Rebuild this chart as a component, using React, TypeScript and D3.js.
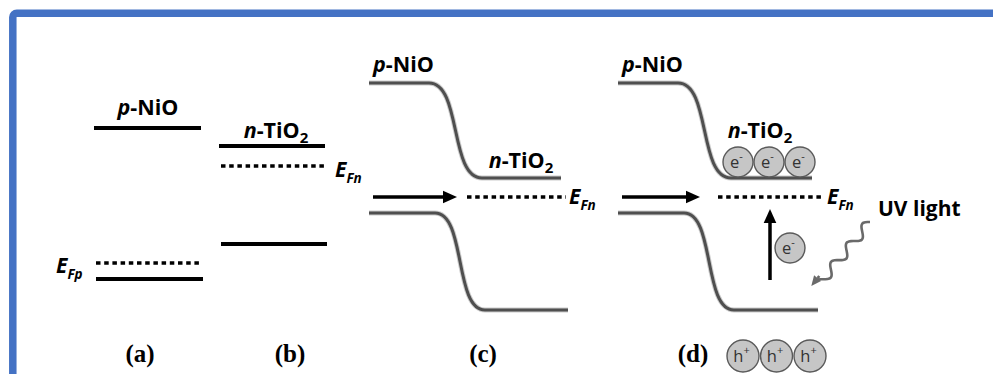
import * as d3 from 'd3';

// energy levels in arbitrary units (0 = bottom of diagram, 100 = top)
const panelLabels = ['(a)', '(b)', '(c)', '(d)'];
const materials = ['p-NiO', 'n-TiO2'];
// separated materials: panel (a) NiO, panel (b) TiO2
const isolatedCB = [80.8, 73.6];
const isolatedEF = [26.8, 65.6];
const isolatedVB = [20.4, 34.4];
// junction (panels c and d): [NiO side, TiO2 side]
const junctionCB = [98.8, 60.8];
const junctionVB = [46.8, 8];
const junctionEF = 53.2;
const electrons = ['e', 'e', 'e'];
const holes = ['h', 'h', 'h'];

const W = 993, H = 374;
const y = d3.scaleLinear().domain([0, 100]).range([330, 80]);

const sans = "'Open Sans', 'DejaVu Sans', sans-serif";
const serif = "'Liberation Serif', 'DejaVu Serif', serif";
const blue = '#4472c4';
const band = '#4f4f4f';

const isoX = [[94, 201], [219, 325]];
const juncX = [369, 618];

function bandPath(x0: number, hi: number, lo: number, b0: number, b1: number, end: number) {
  const p = d3.path();
  const w = b1 - b0;
  p.moveTo(x0, y(hi));
  p.lineTo(x0 + b0, y(hi));
  p.bezierCurveTo(x0 + b0 + w * 0.62, y(hi), x0 + b1 - w * 0.62, y(lo), x0 + b1, y(lo));
  p.lineTo(x0 + end, y(lo));
  return p.toString();
}

function Material({ name, x, yb, anchor = 'middle' }: { name: string; x: number; yb: number; anchor?: string }) {
  const [pre, rest] = name.split('-');
  const sub = rest.endsWith('2');
  return (
    <text x={x} y={yb} textAnchor={anchor as any} fontFamily={sans} fontWeight="bold" fontSize={21.5} fill="#000">
      <tspan fontStyle="italic">{pre}</tspan>
      <tspan>-{sub ? rest.slice(0, -1) : rest}</tspan>
      {sub && <tspan fontSize={15} dy={5}>2</tspan>}
    </text>
  );
}

function Efermi({ x, yb, sub, anchor = 'start' }: { x: number; yb: number; sub: string; anchor?: string }) {
  return (
    <text x={x} y={yb} textAnchor={anchor as any} fontFamily={sans} fontWeight="bold" fontStyle="italic" fontSize={21} fill="#000">
      E<tspan fontSize={13.5} dy={6}>{sub}</tspan>
    </text>
  );
}

function Charge({ cx, cy, r, ch, sign }: { cx: number; cy: number; r: number; ch: string; sign: string }) {
  return (
    <g>
      <circle cx={cx} cy={cy} r={r} fill="#c6c6c6" stroke="#5a5a5a" strokeWidth={1.4} />
      <text x={cx - 1.5} y={cy + 5.5} textAnchor="middle" fontFamily={sans} fontSize={16.5} fill="#333">
        {ch}<tspan fontSize={11} dy={-8}>{sign}</tspan>
      </text>
    </g>
  );
}

function Arrow({ x1, y1, x2, y2, color = '#000', width = 3.5, head = 14 }: any) {
  const a = Math.atan2(y2 - y1, x2 - x1);
  const bx = x2 - head * Math.cos(a), by = y2 - head * Math.sin(a);
  const hw = head * 0.45;
  const pts = [
    [x2, y2],
    [bx + hw * Math.sin(a), by - hw * Math.cos(a)],
    [bx - hw * Math.sin(a), by + hw * Math.cos(a)],
  ];
  return (
    <g>
      <line x1={x1} y1={y1} x2={bx} y2={by} stroke={color} strokeWidth={width} />
      <polygon points={pts.map(p => p.join(',')).join(' ')} fill={color} />
    </g>
  );
}

function Wavy() {
  const s = [870, 222], e = [820, 283];
  const dx = e[0] - s[0], dy = e[1] - s[1];
  const len = Math.hypot(dx, dy);
  const nx = -dy / len, ny = dx / len;
  const pts: [number, number][] = d3.range(0, 1.0001, 0.02).map(t => {
    const off = 5 * Math.sin(t * Math.PI * 2 * 3.2);
    return [s[0] + dx * t + nx * off, s[1] + dy * t + ny * off];
  });
  const line = d3.line().curve(d3.curveBasis)(pts) || '';
  const last = pts[pts.length - 1];
  return (
    <g>
      <path d={line} fill="none" stroke="#6a6a6a" strokeWidth={2.6} />
      <Arrow x1={last[0] + 3} y1={last[1] - 4} x2={last[0] - 5} y2={last[1] + 6} color="#6a6a6a" width={2.6} head={10} />
    </g>
  );
}

export default function App() {
  const dash = '4.5 3.7';
  return (
    <svg width={W} height={H} style={{ position: 'absolute', left: 0, top: 0, background: '#fff' }}>
      <rect x={12.8} y={13.3} width={1200} height={600} rx={4} fill="none" stroke={blue} strokeWidth={7.5} />

      {/* (a) and (b): isolated materials */}
      {isoX.map(([x0, x1], i) => (
        <g key={i}>
          <line x1={x0} x2={x1} y1={y(isolatedCB[i])} y2={y(isolatedCB[i])} stroke="#000" strokeWidth={4} />
          <line x1={x0 + 2} x2={x1 + 2} y1={y(isolatedVB[i])} y2={y(isolatedVB[i])} stroke="#000" strokeWidth={4} />
          <line x1={x0 + 2} x2={x1} y1={y(isolatedEF[i])} y2={y(isolatedEF[i])} stroke="#000" strokeWidth={3.5} strokeDasharray={dash} />
        </g>
      ))}
      <Material name={materials[0]} x={148} yb={115} />
      <Material name={materials[1]} x={276} yb={138} />
      <Efermi x={56} yb={273} sub="Fp" />
      <Efermi x={335} yb={177} sub="Fn" />

      {/* (c) and (d): junction */}
      {juncX.map((x0, i) => (
        <g key={i}>
          {[
            [junctionCB[0], junctionCB[1], 60, 113, 192 + i * 2],
            [junctionVB[0], junctionVB[1], 66, 116, 199 + i],
          ].map(([hi, lo, b0, b1, end], k) => (
            <g key={k}>
              <path d={bandPath(x0, hi, lo, b0, b1, end)} fill="none" stroke="#9a9a9a" strokeWidth={5} opacity={0.5} />
              <path d={bandPath(x0, hi, lo, b0, b1, end)} fill="none" stroke={band} strokeWidth={3} />
            </g>
          ))}
          <Arrow x1={x0 + 4} y1={y(junctionEF)} x2={x0 + 88 - i * 6} y2={y(junctionEF)} />
          <line x1={x0 + 98 + i * 2} x2={x0 + 197 + i * 6} y1={y(junctionEF)} y2={y(junctionEF)} stroke="#000" strokeWidth={3.5} strokeDasharray={dash} />
          <Efermi x={x0 + 200 + i * 9} yb={204} sub="Fn" />
          <Material name={materials[0]} x={x0 + 4} yb={72} anchor="start" />
        </g>
      ))}
      <Material name={materials[1]} x={521} yb={168} />
      <Material name={materials[1]} x={760} yb={138} />

      {electrons.map((c, i) => (
        <Charge key={i} cx={738 + i * 31} cy={162} r={15} ch={c} sign="-" />
      ))}
      <Arrow x1={770} y1={280} x2={770} y2={209} />
      <Charge cx={790} cy={248} r={15} ch="e" sign="-" />
      {holes.map((c, i) => (
        <Charge key={i} cx={743 + i * 33.5} cy={356} r={16} ch={c} sign="+" />
      ))}
      <Wavy />
      <text x={878} y={216} fontFamily={sans} fontWeight="bold" fontSize={21} fill="#000">UV light</text>

      {panelLabels.map((l, i) => (
        <text key={l} x={[140, 290, 483, 693][i]} y={362} textAnchor="middle" fontFamily={serif} fontWeight="bold" fontSize={25} fill="#000">
          {l}
        </text>
      ))}
    </svg>
  );
}
